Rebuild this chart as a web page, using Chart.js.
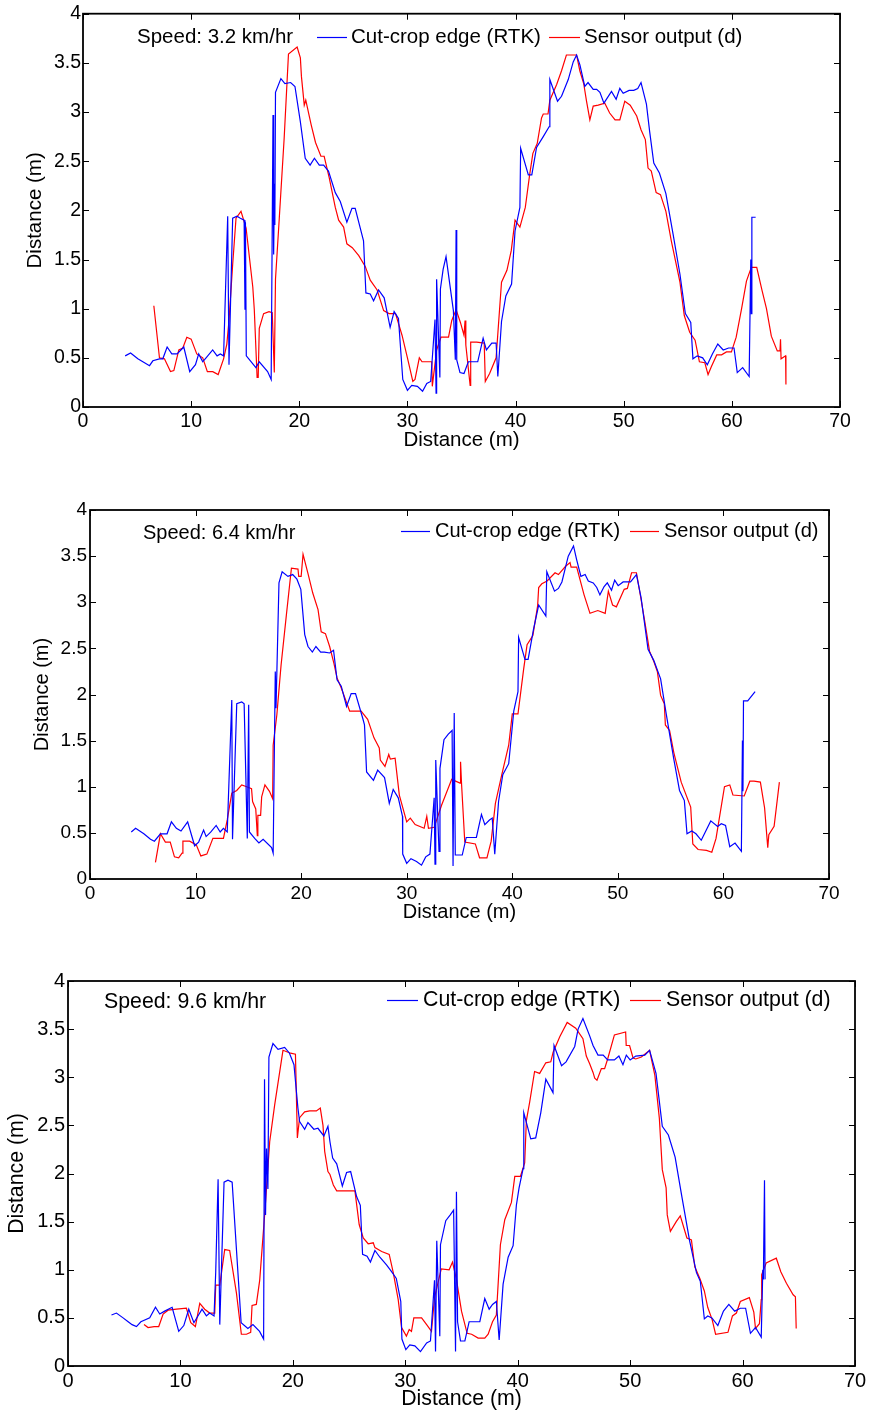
<!DOCTYPE html>
<html>
<head>
<meta charset="utf-8">
<script src="https://cdn.jsdelivr.net/npm/chart.js@4.4.1/dist/chart.umd.min.js"></script>
<style>
  html, body { margin: 0; padding: 0; background: #fff; }
  body { width: 870px; height: 1412px; position: relative; overflow: hidden; }
  canvas { position: absolute; left: 0; }
</style>
</head>
<body>
<canvas id="c1"></canvas>
<canvas id="c2"></canvas>
<canvas id="c3"></canvas>
<script>
// ---------------- DATA ----------------
const legendLabels = ["Cut-crop edge (RTK)", "Sensor output (d)"];
const speedLabels = ["Speed: 3.2 km/hr", "Speed: 6.4 km/hr", "Speed: 9.6 km/hr"];
const xAxisTitle = "Distance (m)";
const yAxisTitle = "Distance (m)";
const xTickStep = 10;
const yTickStep = 0.5;

// Panel 1 (3.2 km/hr)
const p1BlueX = [3.9,4.4,5.07,6.15,6.46,7.07,7.38,7.78,8.21,8.7,9.32,9.87,10.4,10.7,11.07,11.38,11.99,12.4,12.7,13.0,13.38,13.5,13.84,14.24,14.55,14.9,14.98,15.02,15.1,15.99,16.3,17.07,17.4,17.57,17.63,17.7,17.74,17.8,18.3,18.67,19.2,19.6,20.1,20.55,21.0,21.4,21.85,22.25,22.7,23.33,23.79,24.4,24.87,25.17,25.94,26.16,26.56,26.87,27.33,27.85,28.4,28.77,29.17,29.57,30.0,30.4,30.92,31.4,31.79,32.15,32.55,32.65,32.7,33.0,33.05,33.3,33.57,34.25,34.43,34.5,34.56,34.86,35.23,35.63,36.5,37.0,37.3,37.8,38.2,38.36,38.7,39.1,39.63,39.95,40.4,40.47,41.18,41.5,41.94,42.56,43.1,43.17,43.88,44.25,44.87,45.33,45.64,45.95,46.4,46.7,47.18,47.5,47.8,48.17,48.87,49.3,49.64,49.95,50.5,50.93,51.3,51.6,52.1,52.4,52.78,53.3,53.9,54.56,55.2,55.7,56.2,56.4,56.8,57.3,57.73,58.2,58.7,59.2,59.7,60.2,60.5,61.0,61.6,61.75,61.8,61.85,62.2];
const p1BlueY = [0.52,0.55,0.49,0.42,0.47,0.49,0.49,0.61,0.54,0.54,0.61,0.36,0.43,0.54,0.46,0.5,0.58,0.52,0.54,0.52,1.94,0.43,1.92,1.94,1.92,1.9,0.99,1.88,0.52,0.4,0.46,0.36,0.28,2.97,1.55,2.27,1.85,3.2,3.34,3.29,3.3,3.26,2.9,2.53,2.46,2.53,2.46,2.46,2.4,2.18,2.09,1.88,2.02,2.02,1.69,1.16,1.15,1.08,1.19,1.11,0.81,0.97,0.9,0.28,0.17,0.22,0.21,0.16,0.24,0.26,0.89,0.14,1.3,0.3,1.2,1.4,1.53,0.98,0.48,1.8,0.48,0.35,0.34,0.46,0.46,0.7,0.58,0.65,0.65,0.31,0.87,1.13,1.25,1.79,2.03,2.63,2.36,2.36,2.64,2.75,2.85,3.33,3.11,3.16,3.33,3.51,3.58,3.48,3.26,3.3,3.23,3.23,3.2,3.09,3.21,3.13,3.24,3.19,3.22,3.22,3.24,3.3,3.08,2.8,2.48,2.38,2.17,1.76,1.35,0.95,0.86,0.49,0.52,0.5,0.43,0.54,0.64,0.58,0.6,0.6,0.35,0.4,0.31,1.5,0.95,1.93,1.93];
const p1RedX = [6.55,7.07,7.53,8.09,8.4,8.86,9.23,9.6,10.0,10.52,11.07,11.5,12.0,12.5,13.0,13.3,13.5,13.84,14.15,14.61,15.08,15.7,15.84,16.1,16.2,16.3,16.7,17.2,17.5,17.69,17.8,18.15,18.6,19.0,19.8,20.1,20.2,20.46,20.6,21.1,21.5,22.0,22.3,22.77,23.33,23.64,24.1,24.4,24.9,25.5,26.1,26.56,27.2,27.8,28.3,28.9,29.5,30.0,30.5,30.7,31.1,31.35,32.25,32.3,32.7,33.1,33.8,34.1,34.5,34.9,35.23,35.33,35.4,35.8,35.85,36.4,37.1,37.2,37.6,38.2,38.7,39.2,39.6,39.95,40.4,40.9,41.3,41.6,42.0,42.4,42.56,43.0,43.17,43.8,44.25,44.7,45.64,45.94,46.3,46.56,46.87,47.18,47.64,48.25,48.7,49.2,49.64,50.1,50.6,51.2,51.6,52.0,52.25,52.55,53.0,53.4,53.9,54.4,55.2,55.6,56.1,56.6,57.0,57.5,57.8,58.1,58.6,59.05,59.5,59.96,60.4,60.9,61.35,61.8,62.3,62.8,63.2,63.65,64.2,64.45,64.5,64.55,64.97,65.0];
const p1RedY = [1.03,0.5,0.49,0.36,0.37,0.58,0.6,0.71,0.69,0.54,0.5,0.36,0.36,0.33,0.49,0.64,0.88,1.45,1.92,1.99,1.82,1.22,0.99,0.3,0.3,0.8,0.95,0.97,0.96,0.35,1.3,1.92,2.73,3.59,3.66,3.55,3.36,3.07,3.12,2.87,2.69,2.55,2.55,2.33,2.03,1.9,1.83,1.66,1.62,1.54,1.43,1.29,1.19,0.98,0.95,0.95,0.73,0.5,0.26,0.28,0.5,0.46,0.46,0.21,0.58,0.71,0.71,0.88,0.99,0.86,0.73,0.88,0.63,0.22,0.66,0.66,0.65,0.26,0.34,0.5,1.27,1.39,1.59,1.9,1.83,2.03,2.36,2.58,2.68,2.94,2.98,2.98,3.12,3.28,3.42,3.58,3.58,3.42,3.29,3.11,2.92,3.06,3.07,3.09,2.99,2.92,2.92,3.11,3.07,2.96,2.82,2.72,2.43,2.4,2.18,2.16,1.99,1.69,1.27,0.93,0.76,0.68,0.46,0.45,0.33,0.41,0.53,0.53,0.56,0.56,0.71,1.0,1.28,1.42,1.42,1.18,1.0,0.72,0.57,0.57,0.69,0.49,0.52,0.23];

// Panel 2 (6.4 km/hr)
const p2BlueX = [3.91,4.32,5.1,5.73,6.1,6.67,7.3,7.71,8.18,8.62,9.25,9.91,10.29,10.76,11.0,11.45,11.95,12.33,12.64,13.0,13.43,13.5,13.9,14.37,14.6,14.9,15.03,15.1,15.6,16.0,16.4,17.2,17.35,17.55,17.62,17.9,18.2,18.75,19.2,19.6,19.97,20.34,20.65,21.06,21.4,21.85,22.2,22.7,23.07,23.4,23.8,24.3,24.74,25.15,25.84,26.0,26.2,26.85,27.25,27.9,28.35,28.72,29.2,29.6,29.62,30.0,30.4,30.93,31.4,31.8,32.2,32.6,32.68,32.75,33.06,33.15,33.53,33.94,34.3,34.39,34.5,34.6,34.9,35.26,35.64,36.6,37.08,37.4,37.84,38.1,38.34,38.7,39.1,39.66,40.14,40.54,40.6,41.2,41.5,42.0,42.5,43.18,43.27,44.0,44.37,44.7,45.3,45.8,46.1,46.5,46.9,47.2,47.67,48.0,48.3,48.7,49.0,49.4,49.7,50.03,50.5,51.2,51.76,52.2,52.86,53.4,54.05,54.58,55.3,55.84,56.3,56.55,57.0,57.4,57.9,58.8,59.45,59.8,60.2,60.6,61.1,61.7,61.8,61.85,61.9,62.3,63.0];
const p2BlueY = [0.51,0.55,0.49,0.43,0.41,0.49,0.49,0.62,0.55,0.52,0.62,0.36,0.4,0.53,0.46,0.51,0.58,0.51,0.55,0.51,1.94,0.43,1.9,1.92,1.9,0.44,1.89,0.51,0.44,0.39,0.43,0.34,0.28,2.25,1.85,3.21,3.33,3.28,3.3,3.25,3.14,2.65,2.52,2.46,2.52,2.46,2.46,2.45,2.48,2.16,2.09,1.87,2.01,2.01,1.74,1.67,1.16,1.07,1.18,1.1,0.82,0.97,0.88,0.68,0.27,0.17,0.22,0.19,0.15,0.24,0.27,0.88,0.16,1.29,0.3,1.2,1.51,1.57,1.61,0.14,1.8,0.26,0.26,0.26,0.45,0.45,0.7,0.59,0.64,0.66,0.27,0.84,1.13,1.25,1.82,2.03,2.62,2.38,2.38,2.7,2.97,2.85,3.33,3.12,3.15,3.22,3.5,3.61,3.46,3.28,3.3,3.23,3.21,3.16,3.08,3.17,3.21,3.13,3.24,3.18,3.22,3.22,3.3,3.05,2.49,2.37,2.17,1.79,1.3,0.96,0.85,0.49,0.52,0.49,0.42,0.63,0.57,0.6,0.58,0.35,0.39,0.3,1.5,0.95,1.93,1.93,2.03];
const p2RedX = [6.2,6.67,7.14,7.6,8.0,8.4,8.72,8.8,9.44,10.07,10.5,11.07,11.64,12.17,12.64,13.0,13.43,13.9,14.37,14.84,15.3,15.4,15.7,15.85,15.9,16.16,16.26,16.57,17.0,17.3,17.35,17.7,18.1,18.6,19.08,19.7,19.77,20.0,20.18,20.65,21.1,21.6,21.9,22.3,22.7,23.1,23.4,23.8,24.6,25.68,26.3,26.9,27.4,27.5,27.94,28.3,28.45,28.9,29.3,30.0,30.34,30.8,31.65,31.9,32.06,32.6,33.3,34.26,35.05,35.1,35.2,35.5,36.5,36.9,37.6,38.0,38.4,39.0,39.66,40.0,40.54,41.07,41.4,41.95,42.4,42.5,42.8,43.3,44.05,44.37,45.05,45.47,45.57,46.1,46.8,47.36,48.1,48.8,49.1,49.5,49.86,50.6,50.9,51.3,51.76,52.2,52.55,53.0,53.4,53.74,54.05,54.4,54.5,54.9,55.3,56.0,56.9,57.1,57.6,58.4,58.9,59.3,60.1,60.6,60.9,61.97,62.5,62.9,63.5,63.9,64.2,64.3,64.8,65.3];
const p2RedY = [0.18,0.49,0.4,0.4,0.24,0.23,0.28,0.41,0.41,0.37,0.25,0.27,0.44,0.44,0.44,0.64,0.93,0.96,1.02,1.0,0.98,0.84,0.76,0.47,0.69,0.69,0.89,1.02,0.95,0.87,1.45,1.78,2.32,2.86,3.37,3.36,3.28,3.28,3.52,3.31,3.1,2.92,2.68,2.66,2.52,2.34,2.18,2.07,1.82,1.82,1.73,1.53,1.42,1.29,1.22,1.35,1.3,1.31,0.91,0.62,0.66,0.59,0.55,0.68,0.55,0.56,0.8,1.08,1.04,1.27,1.02,0.4,0.38,0.23,0.23,0.41,0.82,1.13,1.45,1.79,1.79,2.27,2.54,2.64,2.96,3.16,3.2,3.23,3.32,3.3,3.39,3.43,3.38,3.38,3.08,2.88,2.91,2.88,3.12,2.97,2.95,3.14,3.15,3.32,3.32,3.03,2.79,2.47,2.36,2.25,1.99,1.9,1.67,1.61,1.37,1.05,0.78,0.38,0.32,0.31,0.29,0.44,1.0,1.02,0.91,0.9,1.06,1.06,1.05,0.77,0.34,0.48,0.57,1.05];

// Panel 3 (9.6 km/hr)
const p3BlueX = [3.87,4.31,4.9,5.35,5.7,6.09,6.48,7.27,7.78,8.16,8.6,9.26,9.85,10.3,10.74,11.2,11.92,12.31,12.6,12.99,13.14,13.35,13.5,13.88,14.23,14.6,15.4,16.0,16.45,17.04,17.4,17.48,17.57,17.66,17.78,17.87,18.23,18.68,19.27,19.7,20.1,20.45,20.6,21.05,21.34,21.87,22.23,22.76,23.12,23.3,23.54,23.9,24.4,24.78,25.14,25.67,26.0,26.2,26.6,26.9,27.3,27.74,28.33,28.78,29.2,29.6,29.7,30.05,30.4,30.85,31.35,31.9,32.24,32.6,32.69,32.8,33.07,33.13,33.6,34.0,34.3,34.47,34.55,34.65,34.91,35.3,35.68,36.63,37.07,37.46,37.76,38.1,38.35,38.7,39.15,39.59,39.88,40.12,40.48,40.54,41.16,41.6,42.05,42.5,43.14,43.23,43.9,44.3,45.07,45.37,45.8,46.4,46.7,47.14,47.6,48.0,48.6,49.0,49.36,49.66,50.0,50.5,51.3,51.73,52.3,52.86,53.4,54.0,54.6,55.29,55.9,56.24,56.6,56.9,57.27,57.8,58.3,58.78,59.3,59.8,60.27,60.7,61.15,61.66,61.8,61.85,61.95,62.0];
const p3BlueY = [0.53,0.55,0.5,0.46,0.43,0.41,0.46,0.5,0.61,0.54,0.57,0.61,0.36,0.42,0.59,0.45,0.59,0.52,0.55,0.52,0.98,1.94,0.43,1.91,1.93,1.91,0.45,0.39,0.43,0.36,0.28,2.98,1.57,2.26,1.84,3.21,3.35,3.29,3.31,3.25,3.13,2.68,2.54,2.46,2.53,2.46,2.47,2.39,2.49,2.33,2.16,2.1,1.87,2.01,2.02,1.76,1.67,1.16,1.14,1.08,1.2,1.13,1.05,0.98,0.91,0.67,0.28,0.17,0.22,0.21,0.15,0.24,0.26,0.89,0.15,1.3,0.31,1.26,1.51,1.57,1.62,0.15,1.81,0.46,0.26,0.26,0.46,0.46,0.7,0.59,0.64,0.67,0.27,0.85,1.13,1.25,1.67,1.85,2.05,2.63,2.36,2.37,2.63,2.98,2.84,3.33,3.12,3.16,3.32,3.5,3.61,3.43,3.33,3.23,3.23,3.18,3.18,3.22,3.13,3.23,3.18,3.22,3.23,3.28,3.04,2.49,2.4,2.17,1.76,1.3,0.97,0.88,0.49,0.52,0.5,0.42,0.57,0.64,0.57,0.6,0.6,0.34,0.4,0.3,1.0,0.9,1.93,0.9];
const p3RedX = [6.76,7.12,7.66,8.07,8.46,8.9,9.65,10.53,10.92,11.33,11.72,12.16,12.6,13.05,13.14,13.5,13.94,14.38,14.98,15.42,15.87,16.25,16.37,16.75,17.05,17.49,17.94,18.38,19.12,19.8,20.23,20.4,20.6,21.05,21.5,22.09,22.44,22.68,22.83,23.12,23.3,23.6,23.9,25.52,25.9,26.26,26.7,27.15,27.3,27.9,28.57,28.93,29.37,29.67,30.1,30.35,30.55,30.76,31.45,31.9,32.33,32.6,33.2,33.9,34.2,34.55,35.0,35.5,35.9,36.48,37.07,37.37,37.76,38.1,38.46,38.85,39.44,39.74,40.24,40.62,40.77,41.06,41.5,41.95,42.5,42.94,43.15,43.74,44.4,45.16,45.8,46.1,46.4,46.7,46.85,47.05,47.44,47.73,48.0,48.6,49.6,49.65,49.95,50.26,50.5,51.0,51.73,52.2,52.6,52.86,53.2,53.3,53.58,54.1,54.46,55.05,55.45,55.75,56.2,56.6,56.9,57.3,57.6,58.7,59.1,59.45,59.8,60.6,61.0,61.15,61.5,61.66,61.7,62.1,63.0,63.4,63.9,64.5,64.7,64.77];
const p3RedY = [0.43,0.4,0.41,0.41,0.54,0.58,0.59,0.6,0.45,0.41,0.65,0.59,0.55,0.55,0.84,0.84,1.21,1.2,0.76,0.33,0.33,0.35,0.63,0.64,0.89,1.57,2.33,2.71,3.28,3.25,3.24,2.37,2.58,2.64,2.65,2.65,2.68,2.5,2.23,2.02,1.99,1.88,1.82,1.82,1.47,1.33,1.27,1.28,1.23,1.19,1.16,0.97,0.69,0.4,0.31,0.38,0.36,0.5,0.5,0.43,0.36,0.71,1.01,1.0,1.08,0.9,0.57,0.34,0.33,0.29,0.29,0.33,0.46,0.53,1.26,1.52,1.7,1.97,1.97,2.11,2.55,2.74,3.06,3.04,3.15,3.16,3.26,3.42,3.57,3.51,3.4,3.22,3.14,3.05,2.99,2.97,3.09,3.09,3.19,3.44,3.47,3.33,3.33,3.2,3.19,3.21,3.28,3.02,2.57,2.04,1.85,1.57,1.4,1.5,1.56,1.33,1.31,1.03,0.91,0.78,0.61,0.48,0.33,0.35,0.52,0.55,0.67,0.71,0.56,0.39,0.44,0.69,0.95,1.07,1.12,0.98,0.86,0.74,0.72,0.39];

// ---------------- RENDERING ----------------
const FONT = '"Liberation Sans", Arial, Helvetica, sans-serif';

const frameAndLegend = {
  id: 'frameAndLegend',
  afterDatasetsDraw(chart, args, o) {
    const {ctx, chartArea: a, scales: {x, y}} = chart;
    const seg = (x0, y0, x1, y1) => { ctx.beginPath(); ctx.moveTo(x0, y0); ctx.lineTo(x1, y1); ctx.stroke(); };
    ctx.save();
    ctx.strokeStyle = '#000';
    ctx.lineWidth = 1;
    const tl = 6;
    x.ticks.forEach(t => {
      const px = Math.round(x.getPixelForValue(t.value)) + 0.5;
      seg(px, a.bottom, px, a.bottom - tl);
      seg(px, a.top, px, a.top + tl);
    });
    y.ticks.forEach(t => {
      const py = Math.round(y.getPixelForValue(t.value)) + 0.5;
      seg(a.left, py, a.left + tl, py);
      seg(a.right, py, a.right - tl, py);
    });
    ctx.lineWidth = 1.8;
    ctx.strokeRect(a.left, a.top, a.right - a.left, a.bottom - a.top);

    // legend + speed annotation
    ctx.font = o.fontSize + 'px ' + FONT;
    ctx.fillStyle = '#000';
    ctx.textBaseline = 'middle';
    ctx.textAlign = 'left';
    ctx.fillText(o.speed, o.speedX, o.speedY);
    chart.data.datasets.forEach((ds, i) => {
      const it = o.items[i];
      ctx.strokeStyle = ds.borderColor;
      ctx.lineWidth = 1.2;
      seg(it.x0, o.legendY + 0.5, it.x1, o.legendY + 0.5);
      ctx.fillStyle = '#000';
      ctx.fillText(ds.label, it.tx, o.legendY);
    });
    ctx.restore();
  }
};

function pts(xs, ys) { return xs.map((v, i) => ({x: v, y: ys[i]})); }
const plainNum = v => String(Math.round(v * 10) / 10);

function makePanel(id, L, blueX, blueY, redX, redY, speed) {
  const cv = document.getElementById(id);
  cv.width = 870; cv.height = L.canvasH;
  cv.style.top = L.canvasTop + 'px';
  const rel = v => v - L.canvasTop;
  new Chart(cv, {
    type: 'scatter',
    data: {
      datasets: [
        {label: legendLabels[0], data: pts(blueX, blueY), borderColor: '#0000ff', backgroundColor: '#0000ff',
         showLine: true, pointRadius: 0, borderWidth: 1.2, tension: 0},
        {label: legendLabels[1], data: pts(redX, redY), borderColor: '#ff0000', backgroundColor: '#ff0000',
         showLine: true, pointRadius: 0, borderWidth: 1.2, tension: 0}
      ]
    },
    options: {
      responsive: false, animation: false, devicePixelRatio: 1,
      layout: {padding: {left: 0, top: rel(L.top), right: 870 - L.right, bottom: 0}},
      plugins: {
        legend: {display: false}, tooltip: {enabled: false},
        frameAndLegend: {
          fontSize: L.legendFont, speed: speed, speedX: L.speedX, speedY: rel(L.speedY),
          legendY: rel(L.legendY), items: L.items
        }
      },
      scales: {
        x: {
          type: 'linear', min: 0, max: 70,
          ticks: {stepSize: xTickStep, color: '#000', font: {family: FONT, size: L.tickFont}, padding: 3, maxRotation: 0, autoSkip: false, callback: plainNum},
          grid: {display: false, drawTicks: false}, border: {display: false},
          title: {display: true, text: xAxisTitle, color: '#000', font: {family: FONT, size: L.titleFont}, padding: {top: 0, bottom: L.xTitlePad}},
          afterFit: s => { s.height = L.canvasH - rel(L.bottom); }
        },
        y: {
          type: 'linear', min: 0, max: 4,
          ticks: {stepSize: yTickStep, color: '#000', font: {family: FONT, size: L.tickFont}, padding: L.yTickPad, callback: plainNum},
          grid: {display: false, drawTicks: false}, border: {display: false},
          title: {display: true, text: yAxisTitle, color: '#000', font: {family: FONT, size: L.titleFont}, padding: {top: L.yTitlePad, bottom: 0}},
          afterFit: s => { s.width = L.left; }
        }
      }
    },
    plugins: [frameAndLegend]
  });
}

makePanel('c1', {canvasTop: 0, canvasH: 460, left: 83, right: 840, top: 12, bottom: 407,
  tickFont: 19.5, titleFont: 20.5, legendFont: 20.5, xTitlePad: 7.7, yTitlePad: 22.7, yTickPad: 2,
  speedX: 137, speedY: 37, legendY: 37,
  items: [{x0: 317, x1: 347, tx: 351}, {x0: 549, x1: 580, tx: 584}]},
  p1BlueX, p1BlueY, p1RedX, p1RedY, speedLabels[0]);

makePanel('c2', {canvasTop: 470, canvasH: 460, left: 90, right: 829, top: 510, bottom: 879,
  tickFont: 19, titleFont: 20, legendFont: 20, xTitlePad: 6, yTitlePad: 30, yTickPad: 3,
  speedX: 143, speedY: 533, legendY: 531,
  items: [{x0: 401, x1: 430, tx: 435}, {x0: 630, x1: 659, tx: 664}]},
  p2BlueX, p2BlueY, p2RedX, p2RedY, speedLabels[1]);

makePanel('c3', {canvasTop: 940, canvasH: 472, left: 68, right: 855, top: 981, bottom: 1366,
  tickFont: 20, titleFont: 21.3, legendFont: 21.3, xTitlePad: 0, yTitlePad: 4.2, yTickPad: 3,
  speedX: 104, speedY: 1002, legendY: 1000,
  items: [{x0: 387, x1: 418, tx: 423}, {x0: 630, x1: 661, tx: 666}]},
  p3BlueX, p3BlueY, p3RedX, p3RedY, speedLabels[2]);
</script>
</body>
</html>
